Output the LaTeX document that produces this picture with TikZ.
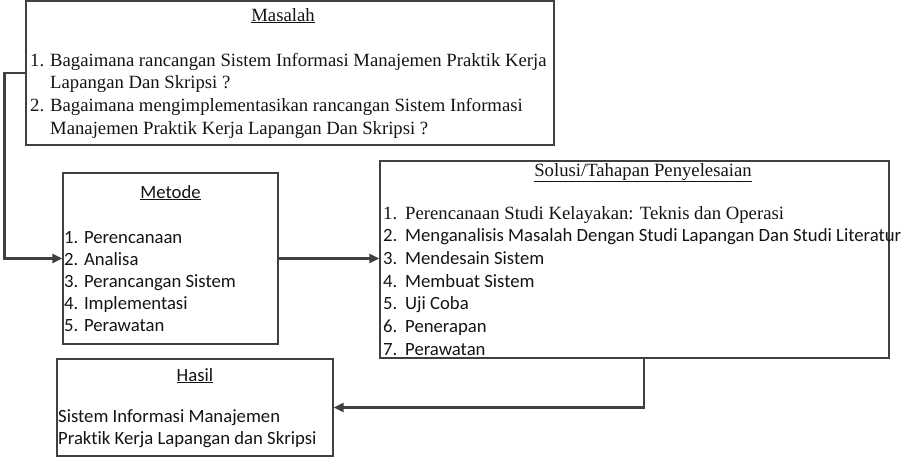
\documentclass[tikz,border=0pt]{standalone}
\usepackage{fontspec}
\setmainfont{Liberation Serif}
\newfontfamily\calfont[Ligatures=NoCommon]{Carlito}
\usetikzlibrary{arrows.meta,calc,positioning}
\definecolor{frameGray}{HTML}{404040}
\definecolor{textDark}{HTML}{141414}
\newcommand\serifText{\fontsize{18.7}{22.7}\selectfont}
\newcommand\caliText{\calfont\fontsize{18.7}{22}\selectfont}

\begin{document}
\begin{tikzpicture}[x=1pt,y=-1pt,
  box/.style={draw=frameGray,line width=1.3pt,inner sep=0pt},
  title/.style={anchor=base,inner sep=0pt,text=textDark},
  list/.style={anchor=base west,inner sep=0pt,align=left,text=textDark},
  flow/.style={draw=frameGray,line width=2.8pt,-{Triangle[length=10pt,width=9pt]}}]
  \useasboundingbox (0,0) rectangle (911,459);
  \node[box,minimum width=528pt,minimum height=144pt] (mas) at (290,73) {};
  \node[box,minimum width=215pt,minimum height=171pt] (met) at (170.5,258.5) {};
  \node[box,minimum width=509pt,minimum height=197pt] (sol) at (634.5,259.5) {};
  \node[box,minimum width=276pt,minimum height=97pt] (has) at (195,407.5) {};
  \node[title,font=\serifText] (masT) at (283,21) {\underline{Masalah}};
  \node[list,font=\serifText] (masL) at (30,66) {\begin{tabular}[t]{@{}p{20pt}@{}l@{}}
    1. & Bagaimana rancangan Sistem Informasi Manajemen Praktik Kerja\\
       & Lapangan Dan Skripsi ?\\
    2. & Bagaimana mengimplementasikan rancangan Sistem Informasi\\
       & Manajemen Praktik Kerja Lapangan Dan Skripsi ?
  \end{tabular}};
  \node[title,font=\caliText] (metT) at (170.5,198) {\underline{Metode}};
  \node[list,font=\caliText] (metL) at (64,243) {\begin{tabular}[t]{@{}l@{}}
    1. Perencanaan\\
    2. Analisa\\
    3. Perancangan Sistem\\
    4. Implementasi\\
    5. Perawatan
  \end{tabular}};
  \node[title,font=\serifText] (solT) at (643,176) {\underline{Solusi/Tahapan Penyelesaian}};
  \node[list,font=\serifText] (solL) at (383,219) {\begin{tabular}[t]{@{}p{22pt}@{}l@{}}
    1. & Perencanaan Studi Kelayakan: Teknis dan Operasi\\
    \caliText 2. & \caliText Menganalisis Masalah Dengan Studi Lapangan Dan Studi Literatur\\
    \caliText 3. & \caliText Mendesain Sistem\\
    \caliText 4. & \caliText Membuat Sistem\\
    \caliText 5. & \caliText Uji Coba\\
    \caliText 6. & \caliText Penerapan\\
    \caliText 7. & \caliText Perawatan
  \end{tabular}};
  \node[title,font=\caliText] (hasT) at (195,381) {\underline{Hasil}};
  \node[list,font=\caliText] (hasL) at (58,422) {\begin{tabular}[t]{@{}l@{}}
    Sistem Informasi Manajemen\\
    Praktik Kerja Lapangan dan Skripsi
  \end{tabular}};
  \draw[flow] (mas.west) -- ($(mas.west)+(-21,0)$) |- (met.west);
  \draw[flow] (met.east) -- (met.east -| sol.west);
  \draw[flow] ($(sol.south)+(9.5,0)$) |- (has.east);
\end{tikzpicture}
\end{document}
